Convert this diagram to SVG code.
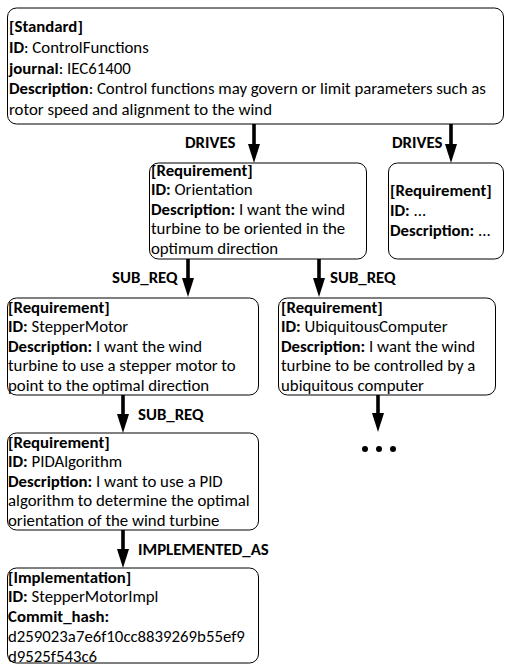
<svg xmlns="http://www.w3.org/2000/svg" width="505" height="667" viewBox="0 0 505 667">
<style>
text{font-family:Carlito,Lato,"Liberation Sans",sans-serif;font-size:16.8px;fill:#000}
.b{font-weight:bold}
.box{fill:#fff;stroke:#000;stroke-width:1}
.lbl{font-weight:bold}
.edge{stroke:#000;stroke-width:3.6;fill:none}
.head{fill:#000}
</style>
<rect width="505" height="667" fill="#fff"/>
<g id="connectors">
  <line class="edge" x1="254" y1="124" x2="254" y2="146"/><polygon class="head" points="248,144 260,144 254,163"/>
  <text class="lbl" x="185" y="148">DRIVES</text>
  <line class="edge" x1="451" y1="124" x2="451" y2="146"/><polygon class="head" points="445,144 457,144 451,163"/>
  <text class="lbl" x="392" y="148">DRIVES</text>
  <line class="edge" x1="188" y1="259" x2="188" y2="280"/><polygon class="head" points="182,278 194,278 188,297"/>
  <text class="lbl" x="112" y="283">SUB_REQ</text>
  <line class="edge" x1="319" y1="259" x2="319" y2="280"/><polygon class="head" points="313,278 325,278 319,297"/>
  <text class="lbl" x="330" y="283">SUB_REQ</text>
  <line class="edge" x1="123" y1="395" x2="123" y2="416"/><polygon class="head" points="117,414 129,414 123,433"/>
  <text class="lbl" x="138" y="420">SUB_REQ</text>
  <line class="edge" x1="378" y1="395" x2="378" y2="415"/><polygon class="head" points="372,413 384,413 378,432"/>
  <line class="edge" x1="123" y1="530" x2="123" y2="551"/><polygon class="head" points="117,549 129,549 123,568"/>
  <text class="lbl" x="138" y="555">IMPLEMENTED_AS</text>
  <circle cx="365" cy="449" r="3"/><circle cx="379" cy="449" r="3"/><circle cx="393" cy="449" r="3"/>
</g>
<g id="standard">
  <rect class="box" x="7.5" y="8" width="496" height="116" rx="9"/>
  <text x="9" y="32" class="b">[Standard]</text>
  <text x="9" y="53"><tspan class="b">ID</tspan>: ControlFunctions</text>
  <text x="9" y="73.5"><tspan class="b">journal</tspan>: IEC61400</text>
  <text x="9" y="94"><tspan class="b">Description</tspan>: Control functions may govern or limit parameters such as</text>
  <text x="9" y="114.5">rotor speed and alignment to the wind</text>
</g>
<g id="orientation">
  <rect class="box" x="149.5" y="163" width="217" height="96" rx="9"/>
  <text x="151" y="175.5" class="b">[Requirement]</text>
  <text x="151" y="195"><tspan class="b">ID:</tspan> Orientation</text>
  <text x="151" y="214.5"><tspan class="b">Description:</tspan> I want the wind</text>
  <text x="151" y="234">turbine to be oriented in the</text>
  <text x="151" y="253.5">optimum direction</text>
</g>
<g id="req_other">
  <rect class="box" x="388.5" y="163" width="115" height="96" rx="9"/>
  <text x="390" y="196" class="b">[Requirement]</text>
  <text x="390" y="216"><tspan class="b">ID:</tspan> ...</text>
  <text x="390" y="235.5"><tspan class="b">Description:</tspan> ...</text>
</g>
<g id="steppermotor">
  <rect class="box" x="7.5" y="298" width="251" height="97" rx="9"/>
  <text x="8" y="313" class="b">[Requirement]</text>
  <text x="8" y="332"><tspan class="b">ID:</tspan> StepperMotor</text>
  <text x="8" y="351.5"><tspan class="b">Description:</tspan> I want the wind</text>
  <text x="8" y="371">turbine to use a stepper motor to</text>
  <text x="8" y="390.5">point to the optimal direction</text>
</g>
<g id="ubiquitous">
  <rect class="box" x="278.5" y="298" width="217" height="97" rx="9"/>
  <text x="281" y="313" class="b">[Requirement]</text>
  <text x="281" y="332"><tspan class="b">ID:</tspan> UbiquitousComputer</text>
  <text x="281" y="351.5"><tspan class="b">Description:</tspan> I want the wind</text>
  <text x="281" y="371">turbine to be controlled by a</text>
  <text x="281" y="390.5">ubiquitous computer</text>
</g>
<g id="pidalgorithm">
  <rect class="box" x="7.5" y="433" width="251" height="97" rx="9"/>
  <text x="8" y="447.5" class="b">[Requirement]</text>
  <text x="8" y="467"><tspan class="b">ID:</tspan> PIDAlgorithm</text>
  <text x="8" y="486.5"><tspan class="b">Description:</tspan> I want to use a PID</text>
  <text x="8" y="506">algorithm to determine the optimal</text>
  <text x="8" y="525.5">orientation of the wind turbine</text>
</g>
<g id="implementation">
  <rect class="box" x="7.5" y="568" width="251" height="95" rx="9"/>
  <text x="8" y="582.5" class="b">[Implementation]</text>
  <text x="8" y="602"><tspan class="b">ID:</tspan> StepperMotorImpl</text>
  <text x="8" y="622"><tspan class="b">Commit_hash:</tspan></text>
  <text x="8" y="642">d259023a7e6f10cc8839269b55ef9</text>
  <text x="8" y="661.5">d9525f543c6</text>
</g>
</svg>
